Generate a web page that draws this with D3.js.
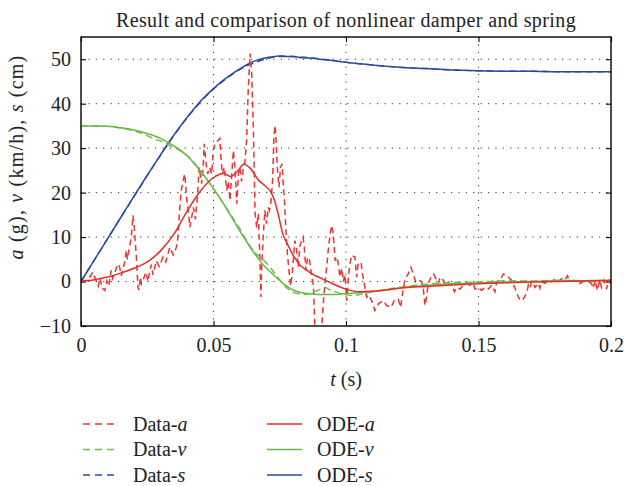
<!DOCTYPE html>
<html><head><meta charset="utf-8">
<script src="https://cdn.jsdelivr.net/npm/d3@7"></script>
<style>body{margin:0;background:#fff} svg text{font-family:'Liberation Serif','Times New Roman',serif !important;}</style>
</head><body>
<svg id="chart" width="624" height="486"></svg>
<script>
// ---------- data ----------
const titleText = "Result and comparison of nonlinear damper and spring";
const xTicks = [0, 0.05, 0.1, 0.15, 0.2];
const xTickLabels = ["0", "0.05", "0.1", "0.15", "0.2"];
const yTicks = [-10, 0, 10, 20, 30, 40, 50];
const yTickLabels = ["\u221210", "0", "10", "20", "30", "40", "50"];

const tOde = [0,0.005,0.01,0.015,0.02,0.025,0.03,0.035,0.04,0.045,0.05,0.054,0.0565,0.059,0.0615,0.064,0.067,0.0695,0.0715,0.073,0.0745,0.076,0.078,0.08,0.0825,0.085,0.0875,0.09,0.095,0.1,0.105,0.11,0.115,0.12,0.13,0.14,0.15,0.16,0.17,0.18,0.19,0.2];
const odeA = [0,0.4,1.0,1.9,3.0,4.4,6.9,10.6,15.8,20.3,23.4,24.3,23.6,24.8,26.4,25.4,22.8,21.5,20.3,18.3,15.0,11.0,8.3,6.0,3.8,2.6,1.6,0.9,-0.5,-1.7,-2.3,-2.2,-1.9,-1.5,-1.1,-0.8,-0.5,-0.3,-0.1,0.0,0.1,0.2];
const odeV = [35,35,34.9,34.6,34.1,33.3,32.2,30.5,28.3,24.9,20.9,17.3,14.8,12.3,9.9,7.6,5.1,3.3,2.2,1.3,0.5,-0.3,-1.2,-1.9,-2.4,-2.7,-2.8,-2.9,-2.9,-2.7,-2.5,-2.2,-1.9,-1.5,-0.9,-0.5,-0.3,-0.1,0.0,0.1,0.2,0.3];
const odeS = [0,4.8,9.6,14.4,19.2,23.9,28.5,32.9,36.9,40.5,43.4,45.4,46.5,47.5,48.4,49.2,49.9,50.3,50.5,50.6,50.7,50.7,50.6,50.6,50.4,50.3,50.2,50.0,49.7,49.3,49.0,48.7,48.4,48.2,47.9,47.6,47.4,47.3,47.3,47.2,47.2,47.2];

const tDataA = [0,0.0025,0.0045,0.0058,0.0065,0.0072,0.008,0.009,0.0098,0.0105,0.0114,0.0119,0.014,0.0145,0.0152,0.0165,0.0171,0.0175,0.0184,0.019,0.0196,0.02,0.0209,0.0215,0.0219,0.0224,0.0228,0.0246,0.0252,0.0265,0.0272,0.0284,0.0295,0.031,0.032,0.0335,0.0348,0.036,0.0366,0.0372,0.0378,0.0391,0.0395,0.0398,0.0405,0.0411,0.0418,0.0424,0.0432,0.044,0.0446,0.0455,0.0461,0.0465,0.0471,0.0478,0.0486,0.0493,0.0499,0.0505,0.0518,0.0524,0.0528,0.0533,0.0541,0.055,0.0556,0.0562,0.0569,0.0575,0.0581,0.0588,0.0594,0.06,0.0606,0.0613,0.0619,0.0625,0.0631,0.0638,0.0644,0.065,0.0654,0.0657,0.0663,0.0669,0.0675,0.0679,0.0682,0.0688,0.0694,0.07,0.0707,0.0711,0.0716,0.0723,0.0728,0.0732,0.0736,0.0741,0.0747,0.0753,0.0759,0.0763,0.0767,0.0774,0.0779,0.0786,0.0791,0.0797,0.0801,0.0807,0.0813,0.082,0.0826,0.0832,0.0838,0.0842,0.0849,0.0855,0.0862,0.0871,0.0877,0.0883,0.0896,0.0908,0.0913,0.092,0.0927,0.0933,0.094,0.0946,0.0952,0.0959,0.0965,0.0971,0.0977,0.0984,0.099,0.0996,0.1003,0.1009,0.1015,0.1021,0.1034,0.104,0.1046,0.1057,0.1062,0.1069,0.1078,0.1084,0.1097,0.1109,0.1122,0.1141,0.1153,0.117,0.1182,0.1197,0.1206,0.1217,0.1223,0.1235,0.1245,0.1254,0.1263,0.1275,0.1285,0.1292,0.1298,0.1304,0.1311,0.1321,0.133,0.1339,0.1349,0.1355,0.1367,0.1374,0.1386,0.1399,0.1409,0.1418,0.143,0.1443,0.1455,0.1468,0.148,0.1487,0.15,0.1512,0.1525,0.1537,0.155,0.1562,0.1569,0.1581,0.1594,0.1606,0.1619,0.1625,0.1632,0.1638,0.1644,0.1657,0.1669,0.1682,0.1688,0.1694,0.17,0.1707,0.1713,0.1726,0.1732,0.1738,0.1751,0.1763,0.1776,0.1788,0.1801,0.1813,0.1826,0.1836,0.1845,0.1858,0.187,0.1883,0.1895,0.1914,0.1926,0.1933,0.194,0.1948,0.1958,0.1964,0.1974,0.1983,0.199,0.2];
const dataA = [0,0.3,2.1,0,-1.0,0.8,-1.5,-2.0,0.2,-1.0,2.5,0.7,4.0,3.5,1.3,4.4,7.0,5.0,8.1,10.0,14.9,13.0,5.5,-1.3,-1.9,1.0,-0.5,2.1,0.0,3.8,1.5,4.7,3.4,5.5,4.4,7.7,6.0,7.7,10.0,16.0,20.5,24.2,22.0,19.0,16.0,12.2,14.5,16.7,14.0,19.8,25.7,22.0,25.7,31.0,27.0,24.2,25.7,24.2,29.5,31.0,31.8,32.2,28.0,24.2,25.7,20.5,22.5,18.2,24.2,29.5,25.7,17.5,24.2,25.7,22.5,25.7,27.2,31.8,43.0,51.3,46.8,35.5,24.2,15.3,12.2,15.3,5.5,-3.5,3.2,10.7,16.0,13.0,16.7,16.0,17.5,22.7,32.5,35.1,32.0,25.7,21.2,25.7,26.5,22.0,19.0,10.7,6.2,1.7,-1.0,1.7,4.7,9.2,7.5,3.2,8.0,9.2,10.0,8.0,2.5,5.5,5.0,1.0,-0.8,-11,-12,-11,-5.8,-0.8,3.2,7.0,10.7,12.6,10.7,4.7,5.5,4.0,1.0,3.0,0.0,1.5,-4.3,1.0,4.0,5.9,5.5,1.0,4.0,4.3,1.8,-0.5,-3.5,-3.0,-4.3,-6.5,-5.0,-4.3,-5.4,-5.8,-4.3,-3.9,-5.8,-1.3,0.6,1.7,3.2,1.7,-0.1,0.3,0.0,-1.7,-5.4,-3.5,-0.4,1.0,1.7,0.7,-0.4,1.0,0.3,-0.8,-0.1,-0.8,-2.3,-1.3,-1.7,-0.8,-0.4,-0.8,-0.4,-1.7,-1.3,-2.0,-1.3,-1.7,-0.8,-2.3,0.0,0.3,1.7,1.3,0.6,0.3,-0.8,-1.5,-2.6,-4.3,-3.9,-2.6,-0.8,-1.5,0.0,-0.4,-1.3,-0.4,-1.5,0.0,-0.4,0.3,0.0,0.6,0.0,0.6,0.3,1.3,0.0,0.3,0.0,-0.4,0.0,0.0,-0.4,-1.5,0.3,-2.0,0.3,-1.3,0.3,-1.7,0.0,-0.4];

const tDataV = [0,0.005,0.01,0.015,0.02,0.025,0.028,0.031,0.034,0.037,0.04,0.045,0.05,0.055,0.06,0.063,0.066,0.069,0.072,0.075,0.078,0.081,0.084,0.087,0.09,0.092,0.094,0.097,0.1,0.103,0.106,0.11,0.115,0.12,0.13,0.14,0.15,0.16,0.17,0.18,0.19,0.2];
const dataV = [35,35,34.9,34.5,33.9,32.8,32.0,31.4,30.4,29.6,28.4,25.0,20.8,16.4,11.8,8.7,6.3,4.8,2.7,0.4,-1.6,-2.6,-2.9,-2.6,-1.8,-1.3,-1.9,-2.5,-3.0,-3.1,-2.8,-2.3,-1.8,-1.3,-0.6,-0.2,-0.1,0.2,0.1,0.3,0.2,0.4];

const tDataS = [0,0.01,0.02,0.03,0.04,0.05,0.055,0.06,0.065,0.07,0.075,0.08,0.09,0.1,0.11,0.12,0.13,0.14,0.15,0.16,0.17,0.18,0.19,0.2];
const dataS = [0,9.6,19.1,28.4,36.8,43.3,45.7,47.7,49.1,50.1,50.6,50.6,50.1,49.3,48.7,48.2,47.9,47.6,47.4,47.3,47.3,47.2,47.2,47.2];

const legendItems = [
  {name: "Data-", v: "a", color: "#ee3333", dash: true,  col: 0, row: 0},
  {name: "Data-", v: "v", color: "#6cbd48", dash: true,  col: 0, row: 1},
  {name: "Data-", v: "s", color: "#2c4c9e", dash: true,  col: 0, row: 2},
  {name: "ODE-",  v: "a", color: "#ea2b2b", dash: false, col: 1, row: 0},
  {name: "ODE-",  v: "v", color: "#66b944", dash: false, col: 1, row: 1},
  {name: "ODE-",  v: "s", color: "#2a4a9c", dash: false, col: 1, row: 2}
];

// ---------- layout ----------
const FONT = "'Liberation Serif','Times New Roman',serif";
const pL = 81, pR = 611, pT = 37, pB = 326;
const svg = d3.select("#chart").style("font-family", FONT);
const x = d3.scaleLinear().domain([0, 0.2]).range([pL, pR]);
const y = d3.scaleLinear().domain([-10, 55]).range([pB, pT]);

svg.append("defs").append("clipPath").attr("id", "plotclip")
  .append("rect").attr("x", pL).attr("y", pT).attr("width", pR-pL).attr("height", pB-pT);

// grid
const grid = svg.append("g").attr("stroke", "#333").attr("stroke-width", 1).attr("stroke-dasharray", "1.2,6.2");
grid.selectAll(".gx").data(xTicks.slice(1, -1)).join("line")
  .attr("x1", d => x(d)).attr("x2", d => x(d)).attr("y1", pT).attr("y2", pB);
grid.selectAll(".gy").data(yTicks.slice(1)).join("line")
  .attr("x1", pL).attr("x2", pR).attr("y1", d => y(d)).attr("y2", d => y(d));

// axes (ticks inward, box)
const axB = d3.axisBottom(x).tickValues(xTicks).tickSize(-5).tickFormat((d,i) => xTickLabels[i]).tickPadding(12);
const axT = d3.axisTop(x).tickValues(xTicks).tickSize(-5).tickFormat("");
const axL = d3.axisLeft(y).tickValues(yTicks).tickSize(-5).tickFormat((d,i) => yTickLabels[i]).tickPadding(10);
const axR = d3.axisRight(y).tickValues(yTicks).tickSize(-5).tickFormat("");
function styleAxis(g) {
  g.attr("font-family", FONT).attr("font-size", 20);
  g.select(".domain").remove();
  g.selectAll(".tick line").attr("stroke", "#000").attr("stroke-width", 1.1);
  g.selectAll("text").style("font-family", FONT).attr("font-size", 20).attr("fill", "#222");
}
svg.append("g").attr("transform", `translate(0,${pB})`).call(axB).call(styleAxis);
svg.append("g").attr("transform", `translate(0,${pT})`).call(axT).call(styleAxis);
svg.append("g").attr("transform", `translate(${pL},0)`).call(axL).call(styleAxis);
svg.append("g").attr("transform", `translate(${pR},0)`).call(axR).call(styleAxis);

// lines
const plot = svg.append("g").attr("clip-path", "url(#plotclip)");
function pts(ts, vs) { return ts.map((t, i) => [t, vs[i]]); }
const lineLin = d3.line().x(d => x(d[0])).y(d => y(d[1]));
const lineSmooth = d3.line().x(d => x(d[0])).y(d => y(d[1])).curve(d3.curveMonotoneX);

plot.append("path").attr("d", lineSmooth(pts(tDataS, dataS))).attr("fill", "none")
  .attr("stroke", legendItems[2].color).attr("stroke-width", 1.4).attr("stroke-dasharray", "7,4");
plot.append("path").attr("d", lineSmooth(pts(tOde, odeS))).attr("fill", "none")
  .attr("stroke", legendItems[5].color).attr("stroke-width", 1.5);
plot.append("path").attr("d", lineLin(pts(tDataA, dataA))).attr("fill", "none")
  .attr("stroke", legendItems[0].color).attr("stroke-width", 1.5).attr("stroke-dasharray", "6,4");
plot.append("path").attr("d", lineSmooth(pts(tDataV, dataV))).attr("fill", "none")
  .attr("stroke", legendItems[1].color).attr("stroke-width", 1.4).attr("stroke-dasharray", "7,4");
plot.append("path").attr("d", lineSmooth(pts(tOde, odeV))).attr("fill", "none")
  .attr("stroke", legendItems[4].color).attr("stroke-width", 1.5);
plot.append("path").attr("d", lineSmooth(pts(tOde, odeA))).attr("fill", "none")
  .attr("stroke", legendItems[3].color).attr("stroke-width", 1.5);

// box
svg.append("rect").attr("x", pL).attr("y", pT).attr("width", pR-pL).attr("height", pB-pT)
  .attr("fill", "none").attr("stroke", "#000").attr("stroke-width", 1.4);

// title
svg.append("text").attr("x", (pL+pR)/2).attr("y", 27).attr("text-anchor", "middle")
  .attr("font-family", FONT).attr("font-size", 20).attr("fill", "#222").attr("letter-spacing", 0.4).text(titleText);

// x label
const xl = svg.append("text").attr("x", (pL+pR)/2).attr("y", 386).attr("text-anchor", "middle")
  .attr("font-family", FONT).attr("font-size", 20).attr("fill", "#222");
xl.append("tspan").attr("font-style", "italic").text("t");
xl.append("tspan").text(" (s)");

// y label
const yl = svg.append("text").attr("transform", "translate(23,157) rotate(-90)").attr("text-anchor", "middle")
  .attr("font-family", FONT).attr("font-size", 20).attr("fill", "#222").attr("letter-spacing", 1.2);
yl.append("tspan").attr("font-style", "italic").text("a");
yl.append("tspan").text(" (g), ");
yl.append("tspan").attr("font-style", "italic").text("v");
yl.append("tspan").text(" (km/h), ");
yl.append("tspan").attr("font-style", "italic").text("s");
yl.append("tspan").text(" (cm)");

// legend
const colX = [83, 267], rowY = [424, 449.5, 475];
const lg = svg.append("g");
legendItems.forEach(it => {
  const lx = colX[it.col], ly = rowY[it.row];
  lg.append("line").attr("x1", lx).attr("x2", lx + 35).attr("y1", ly).attr("y2", ly)
    .attr("stroke", it.color).attr("stroke-width", 1.4).attr("stroke-dasharray", it.dash ? "7,5" : null);
  const t = lg.append("text").attr("x", lx + 50).attr("y", ly + 6.5)
    .attr("font-family", FONT).attr("font-size", 20).attr("fill", "#222");
  t.append("tspan").text(it.name);
  t.append("tspan").attr("font-style", "italic").text(it.v);
});
</script>
</body></html>
